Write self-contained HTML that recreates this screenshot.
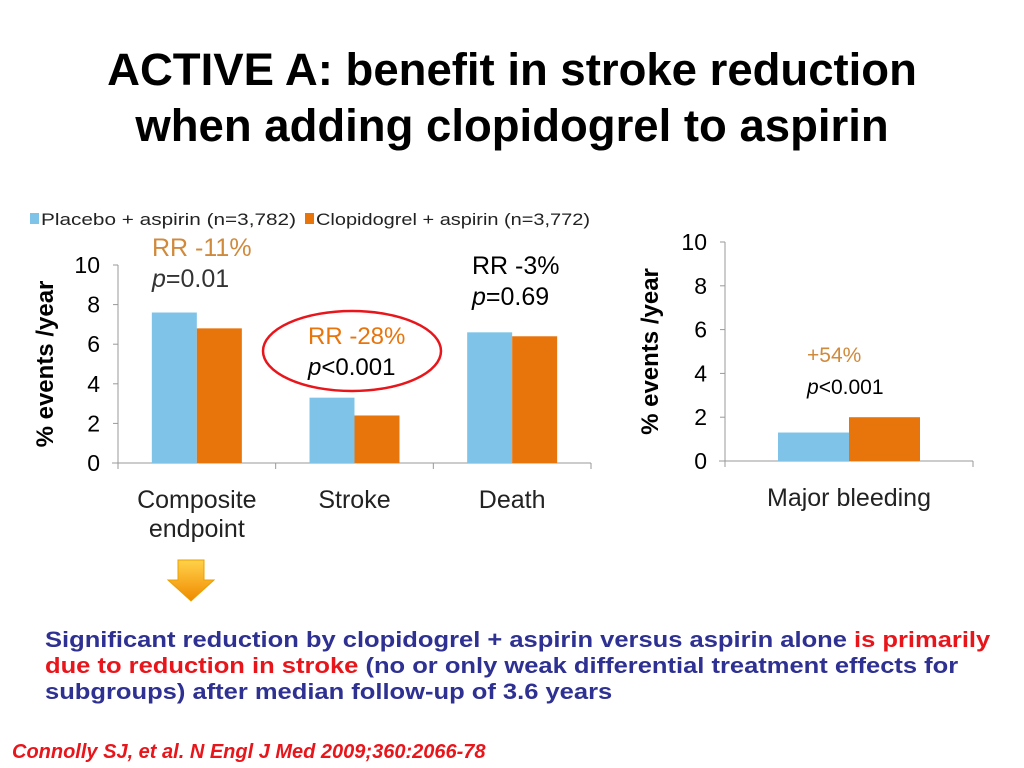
<!DOCTYPE html>
<html><head><meta charset="utf-8"><style>
body{margin:0;width:1024px;height:768px;background:#fff;overflow:hidden;font-family:"Liberation Sans",Arial,sans-serif;}
.t{position:absolute;white-space:nowrap;}
</style></head><body>
<div class="t" style="left:0;width:1024px;top:42px;text-align:center;font-weight:bold;font-size:45.5px;line-height:56px;color:#000">ACTIVE A: benefit in stroke reduction<br>when adding clopidogrel to aspirin</div>
<svg width="1024" height="768" style="position:absolute;left:0;top:0" font-family="Liberation Sans, Arial, sans-serif">
<g id="left"></g>
<g id="right"></g>
</svg>
<div class="t" style="left:45px;top:627px;font-weight:bold;font-size:22px;line-height:26px;color:#2e3192;transform:scaleX(1.16);transform-origin:0 0">Significant reduction by clopidogrel + aspirin versus aspirin alone <span style="color:#e8151b">is primarily<br>due to reduction in stroke</span> (no or only weak differential treatment effects for<br>subgroups) after median follow-up of 3.6 years</div>
<div class="t" style="left:12px;top:741px;font-weight:bold;font-style:italic;font-size:20px;color:#e8151b">Connolly SJ, et al. N Engl J Med 2009;360:2066-78</div>
<script>
const categories=["Composite|endpoint","Stroke","Death"];
const placebo=[7.6,3.3,6.6];
const clopi=[6.8,2.4,6.4];
const yTicks=[0,2,4,6,8,10];
const bleedCategories=["Major bleeding"];
const bleedPlacebo=[1.3];
const bleedClopi=[2.0];
const NS="http://www.w3.org/2000/svg";
function mk(p,tag,at,txt){const e=document.createElementNS(NS,tag);for(const k in at)e.setAttribute(k,at[k]);if(txt!=null)e.textContent=txt;p.appendChild(e);return e;}
const BLUE="#7fc4e8",ORANGE="#e8740c";
function chart(g,o,cats,s1,s2){
  const y=v=>o.y0-(v/10)*(o.y0-o.y10);
  const cw=(o.x1-o.x0)/cats.length;
  let e=mk(g,"line",{x1:o.x0,y1:o.y10,x2:o.x0,y2:o.y0,stroke:"#999"});
  
  e=mk(g,"line",{x1:o.x0-6,y1:o.y0,x2:o.x1,y2:o.y0,stroke:"#999"});
  
  yTicks.forEach(t=>{
    mk(g,"line",{x1:o.x0-5,x2:o.x0,y1:y(t),y2:y(t),stroke:"#999"});
    e=mk(g,"text",{x:o.x0-18,y:y(t)+8,"text-anchor":"end","font-size":23,fill:"#000"},t);
    
  });
  for(let i=0;i<=cats.length;i++)mk(g,"line",{x1:o.x0+i*cw,x2:o.x0+i*cw,y1:o.y0,y2:o.y0+6,stroke:"#999"});
  cats.forEach((c,i)=>{
    const cx=o.x0+cw*(i+0.5);
    e=mk(g,"rect",{x:cx-o.bw,y:y(s1[i]),width:o.bw,height:o.y0-y(s1[i]),fill:BLUE});
    
    e=mk(g,"rect",{x:cx,y:y(s2[i]),width:o.bw,height:o.y0-y(s2[i]),fill:ORANGE});
    
    c.split("|").forEach((ln,j)=>{
      e=mk(g,"text",{x:cx,y:o.y0+45+j*29,"text-anchor":"middle","font-size":25,fill:"#222"},ln);
      
    });
  });
  e=mk(g,"text",{transform:`translate(${o.tx},${(o.y0+o.y10)/2}) rotate(-90)`,"text-anchor":"middle","font-size":24,"font-weight":"bold"},"% events /year");
  
}
const L=document.getElementById("left"),R=document.getElementById("right");
chart(L,{x0:118,x1:591,y0:463,y10:265,bw:45,tx:53},categories,placebo,clopi);
chart(R,{x0:725,x1:973,y0:461,y10:242,bw:71,tx:658},bleedCategories,bleedPlacebo,bleedClopi);
let e=mk(L,"rect",{x:30,y:213,width:9,height:11,fill:BLUE});
e=mk(L,"text",{x:41,y:225,"font-size":17,fill:"#222",textLength:255,lengthAdjust:"spacingAndGlyphs"},"Placebo + aspirin (n=3,782)");
e=mk(L,"rect",{x:305,y:213,width:9,height:11,fill:ORANGE});
e=mk(L,"text",{x:316,y:225,"font-size":17,fill:"#222",textLength:274,lengthAdjust:"spacingAndGlyphs"},"Clopidogrel + aspirin (n=3,772)");
function ann(x,y,t,col,sz,nm){const e=mk(L,"text",{x:x,y:y,"font-size":sz,fill:col});e.innerHTML=t;}
ann(152,256,"RR -11%","#d08a3c",25,"rr-composite");
ann(152,287,'<tspan font-style="italic">p</tspan>=0.01',"#333",25,"p-composite");
ann(472,274,"RR -3%","#000",25,"rr-death");
ann(472,305,'<tspan font-style="italic">p</tspan>=0.69',"#000",25,"p-death");
ann(308,344,"RR -28%","#e8740c",24,"rr-stroke");
ann(308,375,'<tspan font-style="italic">p</tspan>&lt;0.001',"#000",24,"p-stroke");
ann(807,362,"+54%","#d08a3c",21,"rr-bleeding");
ann(807,394,'<tspan font-style="italic">p</tspan>&lt;0.001',"#000",21,"p-bleeding");
e=mk(L,"ellipse",{cx:352,cy:351,rx:89,ry:40,fill:"none",stroke:"#e8151b","stroke-width":2.5});
const gr=mk(L,"defs",{});const lg=mk(gr,"linearGradient",{id:"ag",x1:0,y1:0,x2:0,y2:1});
mk(lg,"stop",{offset:0,"stop-color":"#ffd24a"});mk(lg,"stop",{offset:1,"stop-color":"#f08a00"});
e=mk(L,"polygon",{points:"178,560 204,560 204,580 214,580 191,601 168,580 178,580",fill:"url(#ag)",stroke:"#e8a000"});
</script>
</body></html>
